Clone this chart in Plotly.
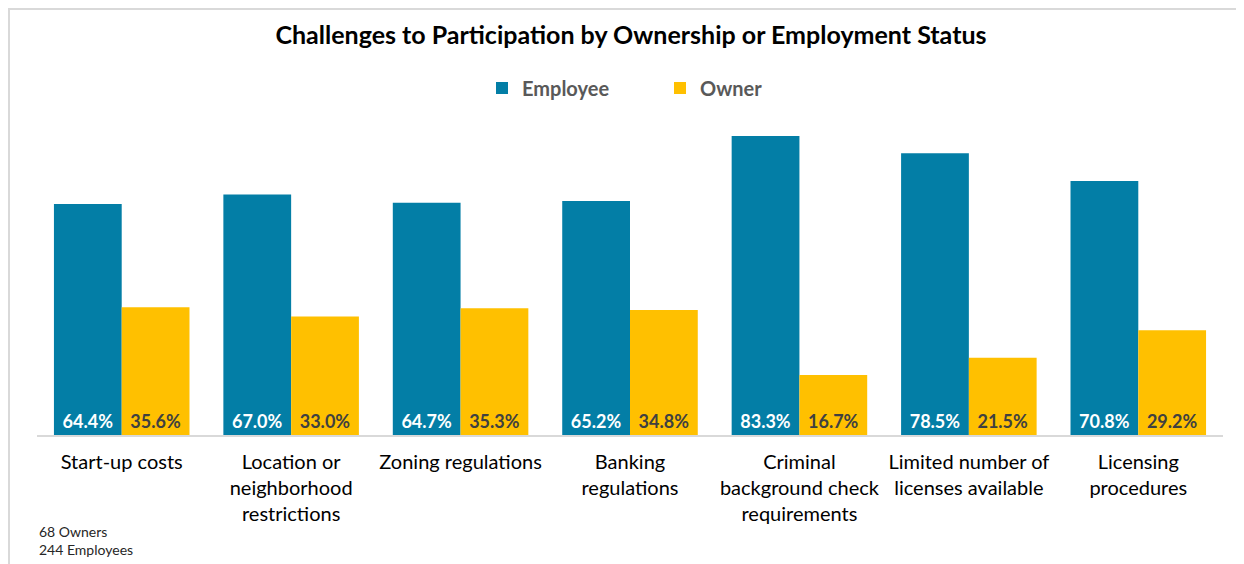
import plotly.graph_objects as go

categories = [
    "Start-up costs",
    "Location or<br>neighborhood<br>restrictions",
    "Zoning regulations",
    "Banking<br>regulations",
    "Criminal<br>background check<br>requirements",
    "Limited number of<br>licenses available",
    "Licensing<br>procedures",
]
employee = [64.4, 67.0, 64.7, 65.2, 83.3, 78.5, 70.8]
owner = [35.6, 33.0, 35.3, 34.8, 16.7, 21.5, 29.2]
notes = ["68 Owners", "244 Employees"]

EMP_COLOR = "#037EA6"
OWN_COLOR = "#FFC000"
FONT = "Lato"

# figure is drawn at page offset (8, 8) because of the body margin
W, H = 1236, 556
L, R, T, B = 29, 21, 104, 129
PW, PH = W - L - R, H - T - B


def px_x(page_x):
    return (page_x - 8 - L) / PW


def px_y(page_y):
    return (H - B - (page_y - 8)) / PH


fig = go.Figure()
fig.add_trace(go.Bar(
    name="Employee", x=categories, y=employee,
    marker=dict(color=EMP_COLOR, line=dict(width=0)),
    text=[f"{v:.1f}%" for v in employee],
    textposition="inside", insidetextanchor="start", textangle=0,
    constraintext="none",
    textfont=dict(family=FONT, size=18, color="white", weight="bold"),
))
fig.add_trace(go.Bar(
    name="Owner", x=categories, y=owner,
    marker=dict(color=OWN_COLOR, line=dict(width=0)),
    text=[f"{v:.1f}%" for v in owner],
    textposition="inside", insidetextanchor="start", textangle=0,
    constraintext="none",
    textfont=dict(family=FONT, size=18, color="#404040", weight="bold"),
))

fig.update_layout(
    width=W, height=H,
    margin=dict(l=L, r=R, t=T, b=B),
    paper_bgcolor="white", plot_bgcolor="white",
    barmode="group", bargap=0.2, bargroupgap=0,
    font=dict(family=FONT, color="#000000"),
    title=dict(
        text="Challenges to Participation by Ownership or Employment Status",
        x=(631 - 8) / W, xanchor="center", y=1 - (35 - 8) / H, yanchor="middle",
        yref="container",
        font=dict(family=FONT, size=25, color="#000000", weight="bold"),
    ),
    legend=dict(
        orientation="h", x=px_x(482), xanchor="left", y=px_y(88), yanchor="middle",
        font=dict(family=FONT, size=20, color="#595959", weight="bold"),
        entrywidth=133, entrywidthmode="pixels",
        bgcolor="rgba(0,0,0,0)",
    ),
    xaxis=dict(
        showline=True, linecolor="#D9D9D9", linewidth=2,
        ticks="", showgrid=False,
        tickfont=dict(family=FONT, size=20, color="#000000"),
        ticklabelstandoff=8,
    ),
    yaxis=dict(range=[0, 90], visible=False, showgrid=False, zeroline=False),
    shapes=[
        dict(type="line", xref="paper", yref="paper",
             x0=px_x(7), x1=px_x(1244), y0=px_y(9), y1=px_y(9),
             line=dict(color="#D9D9D9", width=2)),
        dict(type="line", xref="paper", yref="paper",
             x0=px_x(9), x1=px_x(9), y0=px_y(9), y1=px_y(564),
             line=dict(color="#D9D9D9", width=2)),
    ],
)

for i, n in enumerate(notes):
    fig.add_annotation(
        text=n, xref="paper", yref="paper", x=px_x(37), xanchor="left",
        y=px_y(531 + 18 * i), yanchor="middle", showarrow=False,
        font=dict(family=FONT, size=14, color="#262626"),
    )

fig.write_html("out.html")
